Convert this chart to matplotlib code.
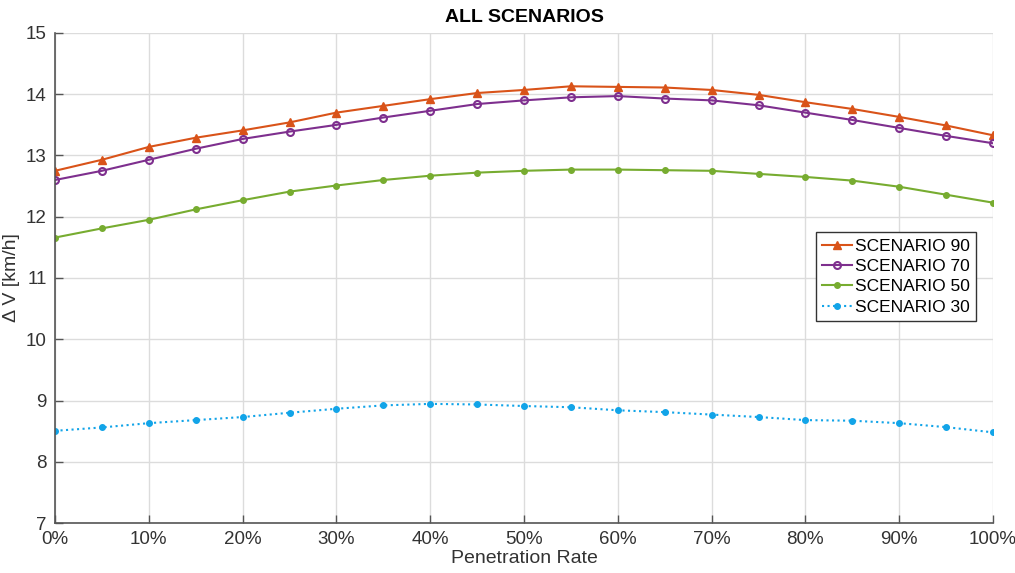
import numpy as np
import matplotlib.pyplot as plt

plt.rcParams['font.family'] = ['Liberation Sans', 'DejaVu Sans']

rate = [0, 5, 10, 15, 20, 25, 30, 35, 40, 45, 50, 55, 60, 65, 70, 75, 80, 85, 90, 95, 100]

scen90 = [12.75, 12.93, 13.14, 13.29, 13.41, 13.54, 13.70, 13.81, 13.92, 14.02, 14.07,
          14.13, 14.12, 14.11, 14.07, 13.99, 13.87, 13.76, 13.63, 13.49, 13.33]
scen70 = [12.60, 12.75, 12.93, 13.11, 13.27, 13.39, 13.50, 13.62, 13.73, 13.84, 13.90,
          13.95, 13.97, 13.93, 13.90, 13.82, 13.70, 13.58, 13.45, 13.32, 13.20]
scen50 = [11.66, 11.81, 11.95, 12.12, 12.27, 12.41, 12.51, 12.60, 12.67, 12.72, 12.75,
          12.77, 12.77, 12.76, 12.75, 12.70, 12.65, 12.59, 12.49, 12.36, 12.23]
scen30 = [8.505, 8.56, 8.63, 8.68, 8.73, 8.80, 8.865, 8.92, 8.945, 8.935, 8.91,
          8.89, 8.84, 8.81, 8.77, 8.73, 8.68, 8.67, 8.63, 8.565, 8.48]

xticks = list(range(0, 101, 10))
xtick_labels = ["%d%%" % t for t in xticks]

fig = plt.figure(figsize=(10.15, 5.73), dpi=100)
ax = fig.add_axes([55 / 1015, 50 / 573, 938 / 1015, 490 / 573])

ax.plot(rate, scen90, color='#D95319', marker='^', markersize=6, linewidth=1.5, label='SCENARIO 90')
ax.plot(rate, scen70, color='#7E2F8E', marker='o', markersize=5, markerfacecolor='none',
        markeredgewidth=1.5, linewidth=1.5, label='SCENARIO 70')
ax.plot(rate, scen50, color='#77AC30', marker='o', markersize=4, linewidth=1.5, label='SCENARIO 50')
ax.plot(rate, scen30, color='#12A4E8', marker='o', markersize=4, linestyle=':', linewidth=1.5,
        label='SCENARIO 30')

ax.set_xlim(0, 100)
ax.set_ylim(7, 15)
ax.set_xticks(xticks)
ax.set_xticklabels(xtick_labels)
ax.set_yticks(range(7, 16))
ax.grid(True, color='#DCDCDC', linewidth=1)
ax.set_axisbelow(True)

for s in ['top', 'right']:
    ax.spines[s].set_visible(False)
for s in ['left', 'bottom']:
    ax.spines[s].set_color('#555555')
    ax.spines[s].set_linewidth(1.2)
ax.tick_params(direction='in', length=6, width=1, color='#555555', labelsize=13.5,
               labelcolor='#333333', pad=6)

ax.set_title('ALL SCENARIOS', fontsize=14, fontweight='bold', pad=8)
ax.set_xlabel('Penetration Rate', fontsize=14, color='#333333', labelpad=1)
ax.set_ylabel('Δ V [km/h]', fontsize=14, color='#333333', labelpad=4)

leg = ax.legend(loc='upper right', bbox_to_anchor=(0.982, 0.593), fontsize=12.5,
                handlelength=1.7, handletextpad=0.2, borderpad=0.35, labelspacing=0.3,
                fancybox=False, framealpha=1, borderaxespad=0)
leg.get_frame().set_edgecolor('#333333')

fig.savefig('out.png', dpi=100)
